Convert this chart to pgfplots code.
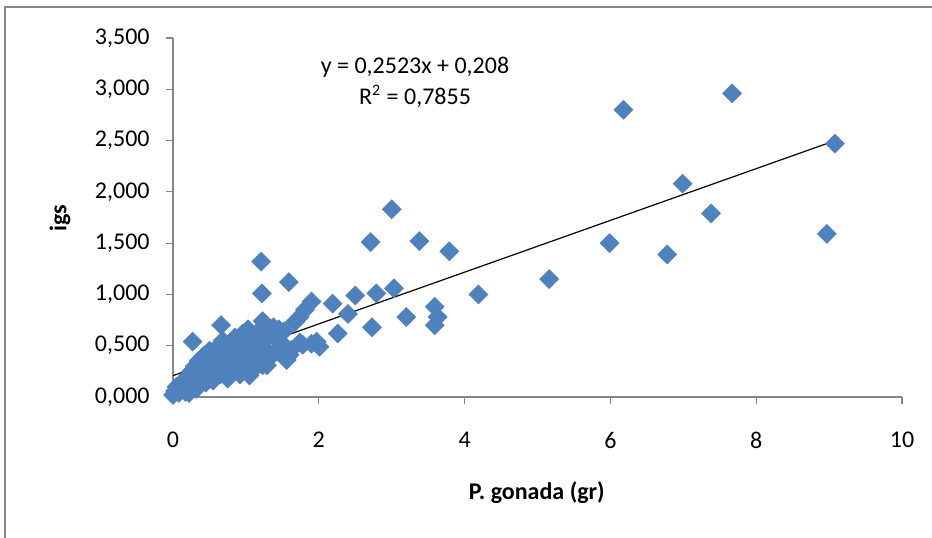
\documentclass[border=0pt]{standalone}
\usepackage{pgfplots}
\pgfplotsset{compat=1.18}
\usepackage{fontspec}
\setmainfont{Carlito}
\definecolor{exblue}{RGB}{79,129,189}
\definecolor{axgray}{RGB}{134,134,134}
\begin{document}
\fontsize{12}{14}\selectfont
\begin{tikzpicture}
\path[use as bounding box] (0,0) rectangle (466pt,268.5pt);
\draw[axgray, line width=1pt] (2.5pt,-2pt) -- (2.5pt,265pt) -- (470pt,265pt);
\begin{axis}[
  at={(86.5pt,70pt)}, anchor=origin,
  scale only axis, width=364.5pt, height=179.5pt,
  xmin=0, xmax=10, ymin=0, ymax=3.5,
  axis x line=bottom, axis y line=left,
  axis line style={axgray,-, line width=0.8pt},
  xtick={0,2,4,6,8,10},
  xticklabels={0,2,4,6,8,10},
  ytick={0,0.5,1,1.5,2,2.5,3,3.5},
  yticklabels={{0,000},{0,500},{1,000},{1,500},{2,000},{2,500},{3,000},{3,500}},
  tick align=outside, major tick length=3.5pt,
  tick style={axgray, line width=0.6pt},
  xticklabel style={yshift=-10pt},
  yticklabel style={xshift=-4pt},
  xlabel={\textbf{P. gonada (gr)}},
  xlabel style={at={(axis description cs:0.499,-0.267)}, anchor=center},
  ylabel={\textbf{igs}},
  ylabel style={at={(axis description cs:-0.155,0.499)}, anchor=center},
  clip=false,
]
\addplot[only marks, mark=square*, mark size=3.3pt,
  mark options={rotate=45, fill=exblue, draw=exblue}] coordinates {
(9.08,2.47) (7.67,2.96) (8.97,1.59) (6.99,2.08) (7.38,1.79) (6.78,1.39)
(6.18,2.80) (5.99,1.50) (5.16,1.15) (4.19,1.00) (3.79,1.42) (3.38,1.52)
(3.00,1.83) (2.71,1.51) (3.03,1.06) (3.20,0.78) (3.59,0.88) (3.63,0.78)
(3.59,0.70) (2.79,1.01) (2.73,0.68) (2.50,0.99) (2.40,0.81) (2.26,0.62)
(2.19,0.91) (2.01,0.49) (1.97,0.54) (1.90,0.52) (1.90,0.93) (1.81,0.85)
(1.74,0.78) (1.67,0.73) (1.78,0.51) (1.74,0.53) (1.59,1.12) (1.56,0.36)
(1.29,0.31) (1.21,1.32) (1.22,1.01) (0.66,0.70) (0.27,0.54)
(0.00,0.02) (0.03,0.06) (0.05,0.10) (0.08,0.04) (0.10,0.12) (0.12,0.08)
(0.15,0.16) (0.17,0.05) (0.20,0.20) (0.22,0.04) (0.22,0.12) (0.25,0.25)
(0.28,0.16) (0.30,0.30) (0.32,0.08) (0.33,0.22) (0.35,0.35) (0.38,0.18)
(0.40,0.28) (0.42,0.40) (0.45,0.14) (0.45,0.33) (0.48,0.24) (0.50,0.45)
(0.52,0.30) (0.55,0.16) (0.55,0.38) (0.58,0.26) (0.60,0.48) (0.62,0.34)
(0.65,0.22) (0.65,0.42) (0.68,0.55) (0.70,0.30) (0.72,0.45) (0.75,0.18)
(0.75,0.38) (0.78,0.52) (0.80,0.26) (0.82,0.44) (0.85,0.58) (0.88,0.34)
(0.90,0.50) (0.92,0.22) (0.95,0.42) (0.96,0.62) (1.00,0.30) (1.00,0.55)
(1.03,0.66) (1.05,0.21) (1.05,0.45) (1.08,0.36) (1.10,0.60) (1.12,0.28)
(1.15,0.50) (1.18,0.40) (1.20,0.66) (1.23,0.31) (1.23,0.74) (1.25,0.55)
(1.28,0.46) (1.32,0.62) (1.35,0.40) (1.38,0.68) (1.41,0.44) (1.42,0.56)
(1.45,0.66) (1.50,0.52) (1.52,0.64) (1.55,0.48) (1.60,0.41) (1.62,0.46)
(1.37,0.62)
};
\addplot[black, line width=0.6pt] coordinates {(0,0.208) (9.1,2.504)};
\node[align=center, font=\fontsize{12}{15.5}\selectfont] at (axis cs:3.32,3.07)
  {y = 0,2523x + 0,208\\R\textsuperscript{2} = 0,7855};
\end{axis}
\end{tikzpicture}
\end{document}
